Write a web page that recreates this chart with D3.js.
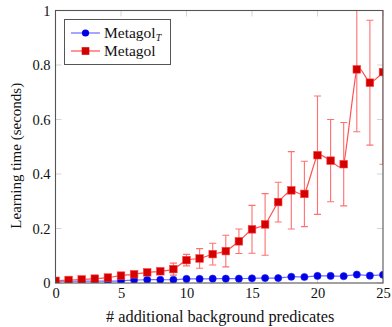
<!DOCTYPE html>
<html>
<head>
<meta charset="utf-8">
<script src="https://cdn.jsdelivr.net/npm/d3@7"></script>
<style>
  body { margin: 0; background: #fff; }
  text { font-family: "Liberation Serif", "DejaVu Serif", serif; fill: #111; }
</style>
</head>
<body>
<svg id="chart" width="392" height="327"></svg>
<script>
// number of additional background predicates
const predicates = d3.range(0, 26);
// learning time in seconds
const metagolT = [0.006, 0.007, 0.007, 0.007, 0.007, 0.008, 0.011, 0.012, 0.012, 0.012,
                  0.015, 0.015, 0.016, 0.016, 0.016, 0.017, 0.018, 0.018, 0.023, 0.022,
                  0.026, 0.026, 0.025, 0.031, 0.027, 0.030];
const metagol = [0.008, 0.011, 0.013, 0.016, 0.020, 0.027, 0.032, 0.039, 0.043, 0.051,
                 0.084, 0.090, 0.106, 0.117, 0.153, 0.197, 0.215, 0.297, 0.340, 0.327,
                 0.469, 0.449, 0.436, 0.784, 0.735, 0.774];
const metagolErr = [0.003, 0.003, 0.003, 0.004, 0.004, 0.005, 0.005, 0.006, 0.007, 0.022,
                    0.021, 0.036, 0.040, 0.058, 0.045, 0.088, 0.113, 0.073, 0.142, 0.120,
                    0.217, 0.151, 0.153, 0.229, 0.229, 0.338];
const xTicks = [0, 5, 10, 15, 20, 25];
const yTicks = [0, 0.2, 0.4, 0.6, 0.8, 1];

const svg = d3.select("#chart");
const pLeft = 55.5, pRight = 383, pTop = 10.5, pBottom = 283;

const x = d3.scaleLinear().domain([0, 25]).range([pLeft, pRight]);
const y = d3.scaleLinear().domain([0, 1]).range([pBottom, pTop]);

svg.append("defs").append("clipPath").attr("id", "plot-clip")
  .append("rect")
  .attr("x", pLeft).attr("y", pTop)
  .attr("width", pRight - pLeft).attr("height", pBottom - pTop);

// inner light ticks on all four sides
const tickG = svg.append("g").attr("stroke", "#d4d4d4").attr("stroke-width", 1);
xTicks.forEach(t => {
  tickG.append("line").attr("x1", x(t)).attr("x2", x(t)).attr("y1", pBottom).attr("y2", pBottom - 6);
  tickG.append("line").attr("x1", x(t)).attr("x2", x(t)).attr("y1", pTop).attr("y2", pTop + 6);
});
yTicks.forEach(t => {
  tickG.append("line").attr("x1", pLeft).attr("x2", pLeft + 6).attr("y1", y(t)).attr("y2", y(t));
  tickG.append("line").attr("x1", pRight).attr("x2", pRight - 6).attr("y1", y(t)).attr("y2", y(t));
});

// tick labels via axes
const xAxis = svg.append("g").attr("transform", `translate(0,${pBottom})`)
  .call(d3.axisBottom(x).tickValues(xTicks).tickSize(0).tickPadding(15).tickFormat(d3.format("d")));
const yAxis = svg.append("g").attr("transform", `translate(${pLeft},0)`)
  .call(d3.axisLeft(y).tickValues(yTicks).tickSize(0).tickPadding(5)
    .tickFormat(d => d === 0 || d === 1 ? d3.format("d")(d) : d3.format(".1f")(d)));
[xAxis, yAxis].forEach(g => {
  g.select(".domain").remove();
  g.selectAll("text").attr("font-size", 14.5).attr("fill", "#111")
    .style("font-family", "Liberation Serif, serif");
});
xAxis.selectAll("text").attr("dy", 0);

const plot = svg.append("g").attr("clip-path", "url(#plot-clip)");

// Metagol error bars
const errG = plot.append("g").attr("stroke", "#ff7070").attr("stroke-width", 1.1);
predicates.forEach((p, i) => {
  if (metagolErr[i] < 0.006) return;
  const xc = x(p), y1 = y(metagol[i] + metagolErr[i]), y0 = y(metagol[i] - metagolErr[i]);
  errG.append("line").attr("x1", xc).attr("x2", xc).attr("y1", y1).attr("y2", y0);
  errG.append("line").attr("x1", xc - 3.5).attr("x2", xc + 3.5).attr("y1", y1).attr("y2", y1);
  errG.append("line").attr("x1", xc - 3.5).attr("x2", xc + 3.5).attr("y1", y0).attr("y2", y0);
});

const line = d3.line().curve(d3.curveCardinal.tension(0.45));

// Metagol_T
plot.append("path")
  .attr("d", line(predicates.map((p, i) => [x(p), y(metagolT[i])])))
  .attr("fill", "none").attr("stroke", "#6b6bff").attr("stroke-width", 1.2);
plot.selectAll(".dotT").data(predicates).enter().append("circle")
  .attr("cx", d => x(d)).attr("cy", (d, i) => y(metagolT[i])).attr("r", 3.6)
  .attr("fill", "#0000e6").attr("stroke", "#2020ff").attr("stroke-width", 0.6);

// Metagol
plot.append("path")
  .attr("d", line(predicates.map((p, i) => [x(p), y(metagol[i])])))
  .attr("fill", "none").attr("stroke", "#ff5050").attr("stroke-width", 1.2);
plot.selectAll(".sq").data(predicates).enter().append("rect")
  .attr("x", d => x(d) - 3.8).attr("y", (d, i) => y(metagol[i]) - 3.8)
  .attr("width", 7.6).attr("height", 7.6)
  .attr("fill", "#d40000").attr("stroke", "#ff4040").attr("stroke-width", 0.6);

// frame
svg.append("rect")
  .attr("x", pLeft).attr("y", pTop).attr("width", pRight - pLeft).attr("height", pBottom - pTop)
  .attr("fill", "none").attr("stroke", "#555").attr("stroke-width", 1.1);

// legend
const leg = svg.append("g");
leg.append("rect").attr("x", 64.5).attr("y", 19.5).attr("width", 106).attr("height", 45)
  .attr("fill", "#fff").attr("stroke", "#555").attr("stroke-width", 1);
leg.append("line").attr("x1", 71).attr("x2", 100).attr("y1", 33).attr("y2", 33)
  .attr("stroke", "#6b6bff").attr("stroke-width", 1.2);
leg.append("circle").attr("cx", 85.5).attr("cy", 33).attr("r", 3.6).attr("fill", "#0000e6");
leg.append("line").attr("x1", 71).attr("x2", 100).attr("y1", 51).attr("y2", 51)
  .attr("stroke", "#ff5050").attr("stroke-width", 1.2);
leg.append("rect").attr("x", 85.5 - 3.8).attr("y", 51 - 3.8).attr("width", 7.6).attr("height", 7.6)
  .attr("fill", "#d40000");
const t1 = leg.append("text").attr("x", 104).attr("y", 38).attr("font-size", 15.5);
t1.append("tspan").text("Metagol");
t1.append("tspan").attr("font-size", 10).attr("font-style", "italic").attr("dy", 3).text("T");
leg.append("text").attr("x", 104).attr("y", 56).attr("font-size", 15.5).text("Metagol");

// axis labels
svg.append("text").attr("x", (pLeft + pRight) / 2 + 1).attr("y", 322).attr("text-anchor", "middle")
  .attr("font-size", 16.3).text("# additional background predicates");
svg.append("text").attr("transform", `translate(21,${(pTop + pBottom) / 2 + 9}) rotate(-90)`)
  .attr("text-anchor", "middle").attr("font-size", 15).text("Learning time (seconds)");
</script>
</body>
</html>
